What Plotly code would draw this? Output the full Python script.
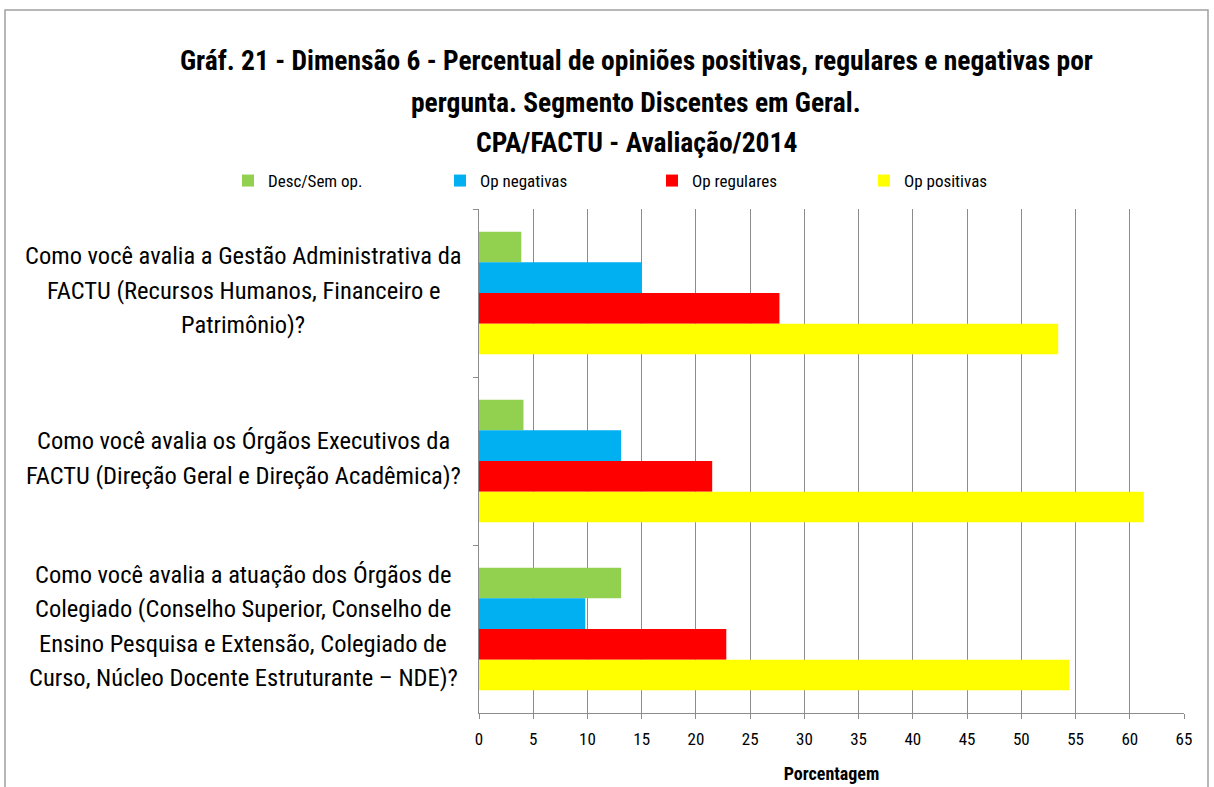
import plotly.graph_objects as go

categories = [
    "Como você avalia a Gestão Administrativa da<br>FACTU (Recursos Humanos, Financeiro e<br>Patrimônio)?",
    "Como você avalia os Órgãos Executivos da<br>FACTU (Direção Geral e Direção Acadêmica)?",
    "Como você avalia a atuação dos Órgãos de<br>Colegiado (Conselho Superior, Conselho de<br>Ensino Pesquisa e Extensão, Colegiado de<br>Curso, Núcleo Docente Estruturante – NDE)?",
]
series_names = ["Desc/Sem op.", "Op negativas", "Op regulares", "Op positivas"]
desc_sem_op = [3.9, 4.1, 13.1]
op_negativas = [15.0, 13.1, 9.8]
op_regulares = [27.7, 21.5, 22.8]
op_positivas = [53.4, 61.3, 54.4]
colors = ["#92D050", "#00B0F0", "#FF0000", "#FFFF00"]
x_ticks = list(range(0, 70, 5))
title_lines = [
    "Gráf. 21 - Dimensão 6 - Percentual de opiniões positivas, regulares e negativas por",
    "pergunta. Segmento Discentes em Geral.",
    "CPA/FACTU - Avaliação/2014",
]
x_title = "Porcentagem"

FONT = "Roboto Condensed, Liberation Sans Narrow, Open Sans, sans-serif"
W, H = 1214, 787
ML, MR, MT, MB = 479, 30, 209, 74
PW = W - ML - MR
PH = H - MT - MB

fig = go.Figure()
for name, vals, col in zip(series_names, [desc_sem_op, op_negativas, op_regulares, op_positivas], colors):
    fig.add_trace(go.Bar(
        y=categories, x=vals, name=name, orientation="h",
        marker=dict(color=col, line=dict(width=0)),
    ))

annotations = []
# title lines
title_y = [61, 102, 142]
for t, ty in zip(title_lines, title_y):
    annotations.append(dict(
        text="<b>%s</b>" % t, xref="paper", yref="paper",
        x=(636 - ML) / PW, y=1 + (MT - ty) / PH,
        xanchor="center", yanchor="middle", showarrow=False,
        font=dict(family=FONT, size=27.5, color="#000000"),
    ))
# category labels, one annotation per line
LS = 34.5
for cat in categories:
    lines = cat.split("<br>")
    n = len(lines)
    for j, ln in enumerate(lines):
        annotations.append(dict(
            text=ln, xref="paper", yref="y", x=0, y=cat,
            xshift=-(ML - 243), yshift=(n - 1) / 2 * LS - j * LS + 3,
            xanchor="center", yanchor="middle", showarrow=False,
            font=dict(family=FONT, size=24.5, color="#000000"),
        ))

fig.update_layout(
    width=W, height=H,
    margin=dict(l=ML, r=MR, t=MT, b=MB, autoexpand=False),
    paper_bgcolor="white", plot_bgcolor="white",
    barmode="group", bargap=0.27, bargroupgap=0,
    showlegend=True,
    legend=dict(
        orientation="h", x=(228 - ML) / PW, y=1 + (MT - 181) / PH,
        xanchor="left", yanchor="middle",
        entrywidth=167, entrywidthmode="pixels",
        font=dict(family=FONT, size=17, color="#000000"),
        traceorder="normal", itemwidth=30,
    ),
    annotations=annotations,
    xaxis=dict(
        range=[0, 65], tickvals=x_ticks, ticktext=[str(v) for v in x_ticks],
        showgrid=True, gridcolor="#8C8C8C", gridwidth=1,
        showline=True, linecolor="#8C8C8C", linewidth=1,
        ticks="outside", ticklen=5, tickcolor="#8C8C8C",
        ticklabelstandoff=6,
        tickfont=dict(family=FONT, size=17, color="#000000"),
        zeroline=False,
        title=dict(text="<b>%s</b>" % x_title, font=dict(family=FONT, size=18, color="#000000"), standoff=18),
    ),
    yaxis=dict(
        autorange="reversed", showticklabels=False,
        showline=True, linecolor="#8C8C8C", linewidth=1,
        ticks="outside", ticklen=5, tickcolor="#8C8C8C", tickson="boundaries",
        showgrid=False, zeroline=False,
    ),
    shapes=[dict(
        type="rect", xref="paper", yref="paper",
        x0=(5 - ML) / PW, x1=(1208 - ML) / PW,
        y0=1 + (MT - 800) / PH, y1=1 + (MT - 10) / PH,
        line=dict(color="#A0A0A0", width=1.5), fillcolor="rgba(0,0,0,0)", layer="below",
    )],
)

fig.write_html(
    "out.html",
    config={"displayModeBar": False},
    post_script="document.body.style.margin='0';document.body.style.overflow='hidden';",
)
